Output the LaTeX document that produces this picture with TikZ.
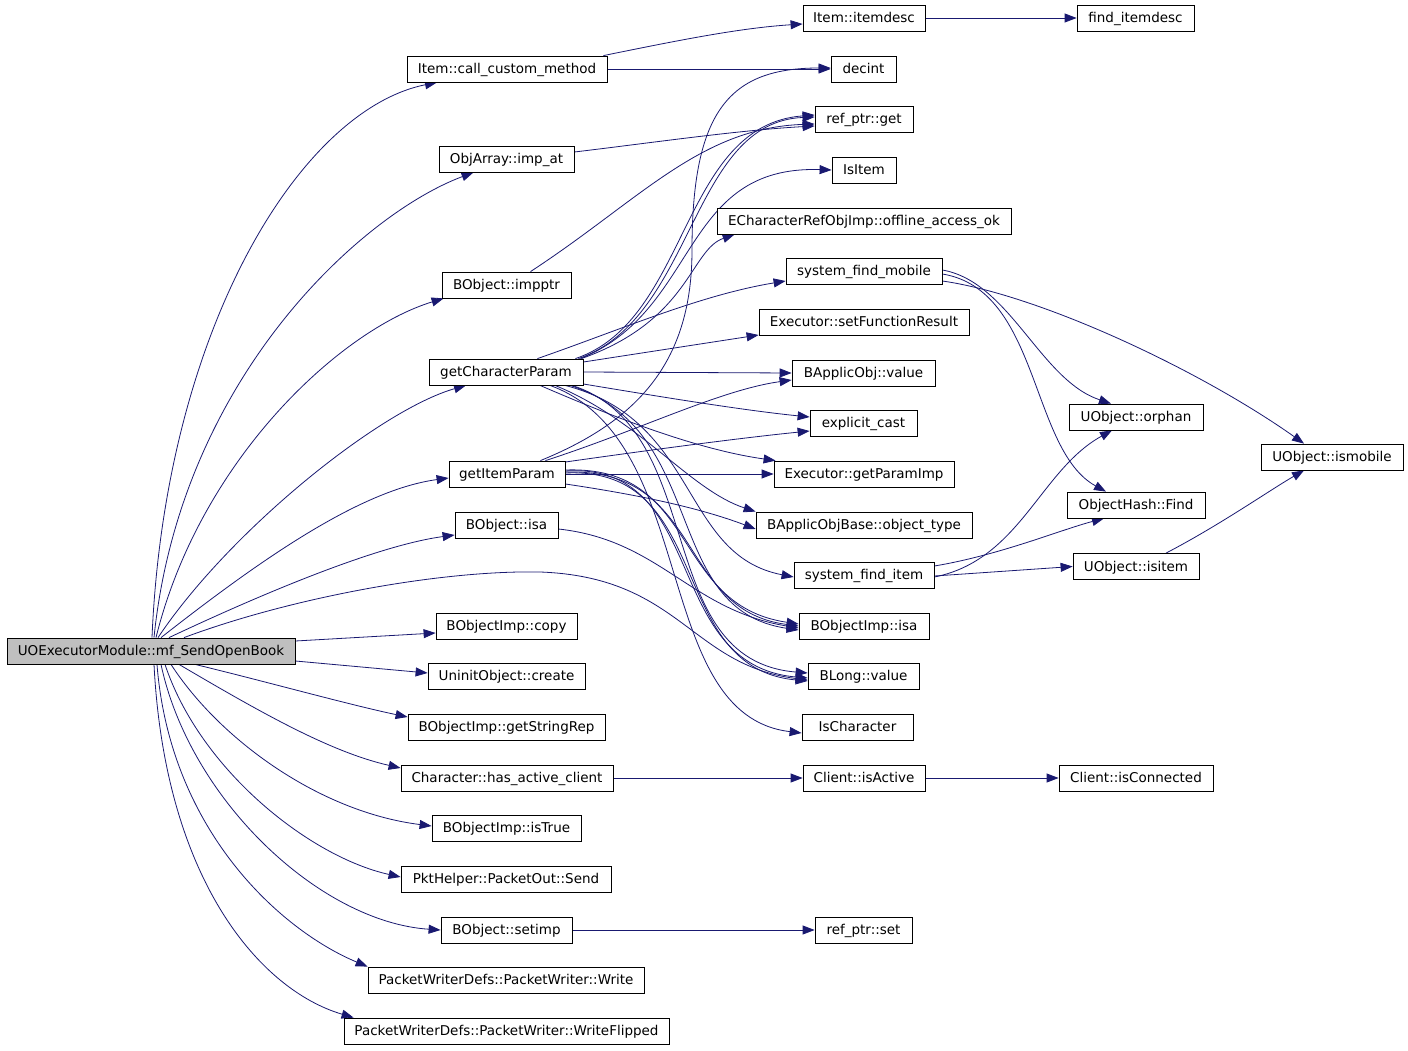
\documentclass[tikz,border=0pt]{standalone}
\usepackage{fontspec}
\setmainfont{DejaVu Sans}
\usetikzlibrary{arrows.meta}
\definecolor{edgeblue}{RGB}{25,25,112}
\definecolor{rootgray}{RGB}{191,191,191}
\pgfdeclarelayer{background}
\pgfsetlayers{background,main}
\begin{document}
\begin{tikzpicture}[x=1pt,y=-1pt,
  box/.style={draw=black,line width=0.8pt,rectangle,minimum height=26pt,inner sep=0pt,fill=white,
    text height=12pt,text depth=2.2pt,font=\fontsize{13.5}{16}\selectfont},
  rootbox/.style={box,fill=rootgray},
  e/.style={draw=edgeblue,line width=0.8pt,-{Triangle[length=12pt,width=9pt]}}]
\useasboundingbox (0,0) rectangle (1408,1051);
% column 1
\node[rootbox,minimum width=288pt] (root) at (151,651) {UOExecutorModule::mf\_SendOpenBook};
% column 2
\node[box,minimum width=200pt] (ccm) at (507,69) {Item::call\_custom\_method};
\node[box,minimum width=135pt] (impat) at (506.5,159) {ObjArray::imp\_at};
\node[box,minimum width=129pt] (impptr) at (506.5,285) {BObject::impptr};
\node[box,minimum width=154pt] (gcp) at (506,372) {getCharacterParam};
\node[box,minimum width=116pt] (gip) at (507,474) {getItemParam};
\node[box,minimum width=103pt] (bisa) at (506.5,525) {BObject::isa};
\node[box,minimum width=141pt] (bicopy) at (506.5,626) {BObjectImp::copy};
\node[box,minimum width=157pt] (uninit) at (506.5,676) {UninitObject::create};
\node[box,minimum width=197pt] (gsr) at (506.5,727) {BObjectImp::getStringRep};
\node[box,minimum width=212pt] (hac) at (507,778) {Character::has\_active\_client};
\node[box,minimum width=149pt] (istrue) at (506.5,828) {BObjectImp::isTrue};
\node[box,minimum width=210pt] (send) at (506,879) {PktHelper::PacketOut::Send};
\node[box,minimum width=131pt] (setimp) at (506.5,930) {BObject::setimp};
\node[box,minimum width=276pt] (write) at (506,980) {PacketWriterDefs::PacketWriter::Write};
\node[box,minimum width=325pt] (writef) at (506.5,1031) {PacketWriterDefs::PacketWriter::WriteFlipped};
% column 3
\node[box,minimum width=122pt] (itemdesc) at (864,18) {Item::itemdesc};
\node[box,minimum width=65pt] (decint) at (863.5,69) {decint};
\node[box,minimum width=98pt] (refget) at (864,119) {ref\_ptr::get};
\node[box,minimum width=64pt] (isitem) at (864,170) {IsItem};
\node[box,minimum width=294pt] (echar) at (864,221) {ECharacterRefObjImp::offline\_access\_ok};
\node[box,minimum width=156pt] (sfm) at (864,271) {system\_find\_mobile};
\node[box,minimum width=210pt] (setfr) at (864,322) {Executor::setFunctionResult};
\node[box,minimum width=143pt] (bav) at (863.5,373) {BApplicObj::value};
\node[box,minimum width=107pt] (ecast) at (863.5,423) {explicit\_cast};
\node[box,minimum width=180pt] (gpi) at (864,474) {Executor::getParamImp};
\node[box,minimum width=216pt] (obt) at (864,525) {BApplicObjBase::object\_type};
\node[box,minimum width=140pt] (sfi) at (864,575) {system\_find\_item};
\node[box,minimum width=130pt] (boisa) at (864,626) {BObjectImp::isa};
\node[box,minimum width=111pt] (blong) at (863.5,676) {BLong::value};
\node[box,minimum width=111pt] (ischar) at (857.5,727) {IsCharacter};
\node[box,minimum width=122pt] (isactive) at (864,778) {Client::isActive};
\node[box,minimum width=97pt] (refset) at (863.5,930) {ref\_ptr::set};
% column 4
\node[box,minimum width=117pt] (finditemdesc) at (1135.5,18) {find\_itemdesc};
\node[box,minimum width=134pt] (orphan) at (1136,417) {UObject::orphan};
\node[box,minimum width=138pt] (ohfind) at (1136,505) {ObjectHash::Find};
\node[box,minimum width=126pt] (uoisitem) at (1136,566.5) {UObject::isitem};
\node[box,minimum width=154pt] (isconn) at (1136,778) {Client::isConnected};
% column 5
\node[box,minimum width=142pt] (ismobile) at (1332,457) {UObject::ismobile};

\begin{pgfonlayer}{background}
% ---- root edges
\draw[e] ([xshift=1pt]root.north) .. controls (165,330) and (300,110) .. ([xshift=-70pt]ccm.south);
\draw[e] ([xshift=3pt]root.north) .. controls (180,380) and (360,215) .. ([xshift=-33pt]impat.south);
\draw[e] ([xshift=5pt]root.north) .. controls (200,460) and (340,330) .. ([xshift=2pt]impptr.south west);
\draw[e] ([xshift=7pt]root.north) .. controls (230,530) and (380,410) .. ([xshift=-40pt]gcp.south);
\draw[e] ([xshift=10pt]root.north) .. controls (260,560) and (360,490) .. ([yshift=-4pt]gip.west);
\draw[e] ([xshift=18pt]root.north) .. controls (270,590) and (380,545) .. ([yshift=-10pt]bisa.west);
\draw[e] ([xshift=33pt]root.north) .. controls (290,598) and (440,570) .. (540,572)
   .. controls (680,577) and (690,665) .. ([yshift=-4pt]blong.west);
\draw[e] ([yshift=10pt]root.east) -- ([yshift=-7pt]bicopy.west);
\draw[e] ([yshift=-10pt]root.east) -- ([yshift=3pt]uninit.west);
\draw[e] ([xshift=44pt]root.south) .. controls (260,680) and (350,705) .. ([yshift=10pt]gsr.west);
\draw[e] ([xshift=28pt]root.south) .. controls (260,712) and (330,752) .. ([yshift=10pt]hac.west);
\draw[e] ([xshift=20pt]root.south) .. controls (220,740) and (320,812) .. ([yshift=2pt]istrue.west);
\draw[e] ([xshift=14pt]root.south) .. controls (200,770) and (310,857) .. ([yshift=2pt]send.west);
\draw[e] ([xshift=10pt]root.south) .. controls (190,800) and (320,922) .. (setimp.west);
\draw[e] ([xshift=6pt]root.south) .. controls (170,830) and (280,930) .. (write.north west);
\draw[e] ([xshift=3pt]root.south) .. controls (165,880) and (260,990) .. ([xshift=10pt]writef.north west);

% ---- column 2 simple edges
\draw[e] ([xshift=-4pt]ccm.north east) .. controls (680,40) and (740,28) .. ([yshift=-6pt]itemdesc.west);
\draw[e] (ccm.east) -- (decint.west);
\draw[e] ([yshift=7pt]impat.east) .. controls (650,143) and (740,130) .. ([yshift=-7pt]refget.west);
\draw[e] ([xshift=24pt]impptr.north) .. controls (640,200) and (700,128) .. ([yshift=-5pt]refget.west);
\draw[e] (setimp.east) -- (refset.west);
\draw[e] (hac.east) -- (isactive.west);
\draw[e] (isactive.east) -- (isconn.west);
\draw[e] (itemdesc.east) -- (finditemdesc.west);

% ---- getCharacterParam
\draw[e] ([xshift=-8pt]gcp.north east) .. controls (690,320) and (680,125) .. ([yshift=4pt]refget.west);
\draw[e] ([xshift=-5pt]gcp.north east) .. controls (695,318) and (690,122) .. ([yshift=2pt]refget.west);
\draw[e] ([xshift=-3pt]gcp.north east) .. controls (700,310) and (680,165) .. (isitem.west);
\draw[e] ([xshift=-2pt]gcp.north east) .. controls (690,320) and (690,250) .. ([xshift=18pt]echar.south west);
\draw[e] ([xshift=-46pt]gcp.north east) .. controls (620,330) and (700,295) .. ([yshift=-10pt]sfm.west);
\draw[e] ([yshift=10pt]gcp.east) -- ([yshift=-13pt]setfr.west);
\draw[e] (gcp.east) -- (bav.west);
\draw[e] ([yshift=-12pt]gcp.east) .. controls (650,395) and (740,410) .. ([yshift=6pt]ecast.west);
\draw[e] ([xshift=34pt]gcp.south) .. controls (620,420) and (700,450) .. ([xshift=2pt]gpi.north west);
\draw[e] ([xshift=49pt]gcp.south) .. controls (640,420) and (690,490) .. (obt.north west);
\draw[e] ([xshift=59pt]gcp.south) .. controls (700,420) and (680,555) .. ([yshift=-2pt]sfi.west);
\draw[e] ([xshift=64pt]gcp.south) .. controls (710,430) and (660,610) .. ([yshift=-4pt]boisa.west);
\draw[e] ([xshift=66pt]gcp.south) .. controls (710,430) and (650,660) .. ([yshift=3pt]blong.west);
\draw[e] ([xshift=44pt]gcp.south) .. controls (700,440) and (650,715) .. ([yshift=-6pt]ischar.west);

% ---- getItemParam
\draw[e] ([xshift=-25pt]gip.north east) .. controls (640,420) and (692,360) .. (692,250)
   .. controls (692,110) and (730,68) .. ([yshift=1pt]decint.west);
\draw[e] ([xshift=-20pt]gip.north east) .. controls (640,430) and (720,390) .. ([yshift=-7pt]bav.west);
\draw[e] ([yshift=12pt]gip.east) .. controls (650,450) and (740,438) .. ([yshift=-8pt]ecast.west);
\draw[e] (gip.east) -- (gpi.west);
\draw[e] ([yshift=-10pt]gip.east) .. controls (640,495) and (700,508) .. ([yshift=-4pt]obt.west);
\draw[e] ([yshift=4pt]gip.east) .. controls (700,465) and (670,605) .. ([yshift=2pt]boisa.west);
\draw[e] ([yshift=2pt]gip.east) .. controls (705,468) and (675,610) .. (boisa.west);
\draw[e] ([yshift=3pt]gip.east) .. controls (710,462) and (660,665) .. ([yshift=-2pt]blong.west);
\draw[e] ([yshift=1pt]gip.east) .. controls (715,466) and (665,668) .. ([yshift=-5pt]blong.west);

% ---- other edges
\draw[e] ([yshift=-4pt]bisa.east) .. controls (660,540) and (690,610) .. ([yshift=-2pt]boisa.west);
\draw[e] ([yshift=1pt]sfm.east) .. controls (1010,282) and (1040,380) .. ([xshift=-25pt]orphan.north);
\draw[e] ([yshift=-3pt]sfm.east) .. controls (1040,290) and (1030,450) .. ([xshift=-30pt]ohfind.north);
\draw[e] ([yshift=-10pt]sfm.east) .. controls (1040,295) and (1200,370) .. ([xshift=-28pt]ismobile.north);
\draw[e] ([yshift=-2pt]sfi.east) .. controls (1020,560) and (1040,470) .. ([xshift=-24pt]orphan.south);
\draw[e] ([yshift=9pt]sfi.east) .. controls (1000,555) and (1060,530) .. ([xshift=-32pt]ohfind.south);
\draw[e] ([yshift=-1pt]sfi.east) -- (uoisitem.west);
\draw[e] ([xshift=30pt]uoisitem.north) .. controls (1220,525) and (1270,490) .. ([xshift=-28pt]ismobile.south);
\end{pgfonlayer}
\end{tikzpicture}
\end{document}
